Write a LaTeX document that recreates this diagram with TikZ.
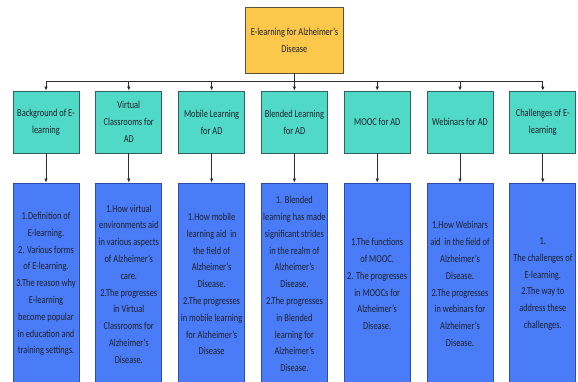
\documentclass[tikz,border=0pt]{standalone}
\usepackage{fontspec}
\setmainfont{Carlito}[FakeStretch=0.79]
\usetikzlibrary{arrows.meta}
\definecolor{topfill}{RGB}{252,200,75}
\definecolor{topline}{RGB}{90,80,60}
\definecolor{tealfill}{RGB}{80,217,198}
\definecolor{tealline}{RGB}{50,95,95}
\definecolor{bluefill}{RGB}{74,124,248}
\definecolor{blueline}{RGB}{45,75,170}
\definecolor{txt}{RGB}{30,32,45}
\definecolor{conn}{RGB}{45,45,45}
\tikzset{
  topbox/.style={draw=topline, fill=topfill, line width=0.8pt, minimum width=98pt, minimum height=66pt, align=center, text=txt, inner sep=1pt},
  tealbox/.style={draw=tealline, fill=tealfill, line width=0.8pt, minimum width=66pt, minimum height=62pt, align=center, text=txt, inner sep=1pt},
  bluebox/.style={draw=blueline, fill=bluefill, line width=0.8pt, minimum width=66pt, minimum height=202pt, align=center, text=txt, inner sep=1pt},
  link/.style={draw=conn, line width=0.7pt, -{Latex[length=4pt,width=3.5pt]}},
}
\begin{document}
\begin{tikzpicture}[x=1pt,y=-1pt, font=\fontsize{10.6}{16.8}\selectfont]
\useasboundingbox (0,0) rectangle (578,381);
\clip (0,0) rectangle (578,381);
\node[topbox] (top) at (294.4,40) {E-learning for Alzheimer's\\Disease};
\node[tealbox] (t1) at (46,122) {Background of E-\\learning};
\node[tealbox] (t2) at (128.8,122) {Virtual\\Classrooms for\\AD};
\node[tealbox] (t3) at (211.6,122) {Mobile Learning\\for AD};
\node[tealbox] (t4) at (294.4,122) {Blended Learning\\for AD};
\node[tealbox] (t5) at (377.2,122) {MOOC for AD};
\node[tealbox] (t6) at (460,122) {Webinars for AD};
\node[tealbox] (t7) at (542.8,122) {Challenges of E-\\learning};
\node[bluebox] (b1) at (46,284) {1.Definition of\\E-learning.\\2. Various forms\\of E-learning.\\3.The reason why\\E-learning\\become popular\\in education and\\training settings.};
\node[bluebox] (b2) at (128.8,284) {1.How virtual\\environments aid\\in various aspects\\of Alzheimer's\\care.\\2.The progresses\\in Virtual\\Classrooms for\\Alzheimer's\\Disease.};
\node[bluebox] (b3) at (211.6,284) {1.How mobile\\learning aid\ \ in\\the field of\\Alzheimer's\\Disease.\\2.The progresses\\in mobile learning\\for Alzheimer's\\Disease};
\node[bluebox] (b4) at (294.4,284) {1. Blended\\learning has made\\significant strides\\in the realm of\\Alzheimer's\\Disease.\\2.The progresses\\in Blended\\learning for\\Alzheimer's\\Disease.};
\node[bluebox] (b5) at (377.2,284) {1.The functions\\of MOOC.\\2. The progresses\\in MOOCs for\\Alzheimer's\\Disease.};
\node[bluebox] (b6) at (460,284) {1.How Webinars\\aid\ \ in the field of\\Alzheimer's\\Disease.\\2.The progresses\\in webinars for\\Alzheimer's\\Disease.};
\node[bluebox] (b7) at (542.8,284) {1.\\The challenges of\\E-learning.\\2.The way to\\address these\\challenges.};
\foreach \i in {1,...,7}{
  \draw[link] (top.south) -- ++(0,8) -| (t\i.north);
  \draw[link] (t\i.south) -- (b\i.north);
}
\end{tikzpicture}
\end{document}
